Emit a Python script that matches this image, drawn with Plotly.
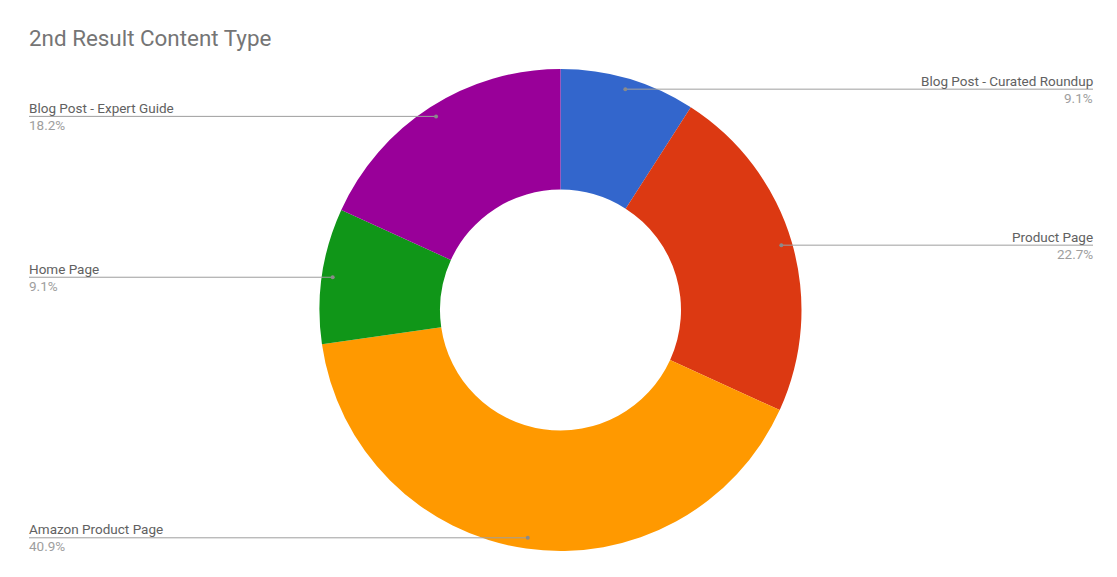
import math
import plotly.graph_objects as go

# Data
labels = ["Blog Post - Curated Roundup", "Product Page", "Amazon Product Page",
          "Home Page", "Blog Post - Expert Guide"]
values = [2, 5, 9, 2, 4]
colors = ["#3366cc", "#dc3912", "#ff9900", "#109618", "#990099"]
title_text = "2nd Result Content Type"

W, H = 1117, 577
OFF = 8                      # page body margin offset in the browser
CX, CY, R = 560.5, 310, 241  # pie centre / radius in screen pixels
HOLE = 0.5

def px(x):
    return (x - OFF) / W

def py(y):
    return 1 - (y - OFF) / H

fig = go.Figure()
fig.add_trace(go.Pie(
    labels=labels, values=values, sort=False, direction="clockwise", rotation=0,
    hole=HOLE, marker=dict(colors=colors, line=dict(width=0)),
    textinfo="none", showlegend=False,
    domain=dict(x=[px(CX - R), px(CX + R)], y=[py(CY + R), py(CY - R)]),
))

total = sum(values)
shapes = []
annotations = [dict(
    text=title_text, x=px(29 - 2), y=py(37.5), xref="paper", yref="paper",
    xanchor="left", yanchor="middle", showarrow=False,
    font=dict(family="Roboto", size=22.4, color="#757575"),
)]

LEFT_X, RIGHT_X = 29, 1093
cum = 0
for lab, v in zip(labels, values):
    mid = (cum + v / 2) / total * 2 * math.pi
    cum += v
    rd = R * 0.955
    dx = CX + rd * math.sin(mid)
    dy = CY - rd * math.cos(mid)
    right = mid < math.pi
    ex = RIGHT_X if right else LEFT_X
    shapes.append(dict(type="line", xref="paper", yref="paper",
                       x0=px(dx), y0=py(dy), x1=px(ex), y1=py(dy),
                       line=dict(color="#9e9e9e", width=1)))
    shapes.append(dict(type="circle", xref="paper", yref="paper",
                       x0=px(dx - 2), y0=py(dy - 2), x1=px(dx + 2), y1=py(dy + 2),
                       fillcolor="#8a8a8a", line=dict(width=0)))
    anchor = "right" if right else "left"
    tx = ex + 2 if right else ex - 2
    pct = f"{100 * v / total:.1f}%"
    annotations.append(dict(
        text=lab, x=px(tx), y=py(dy), xref="paper", yref="paper",
        xanchor=anchor, yanchor="middle", yshift=8.5, showarrow=False,
        font=dict(family="Roboto", size=13.5, color="#616161"),
    ))
    annotations.append(dict(
        text=pct, x=px(tx), y=py(dy), xref="paper", yref="paper",
        xanchor=anchor, yanchor="middle", yshift=-8.5, showarrow=False,
        font=dict(family="Roboto", size=13.5, color="#9e9e9e"),
    ))

fig.update_layout(
    width=W, height=H, margin=dict(l=0, r=0, t=0, b=0),
    paper_bgcolor="white", plot_bgcolor="white",
    shapes=shapes, annotations=annotations,
)

fig.write_html("out.html")
